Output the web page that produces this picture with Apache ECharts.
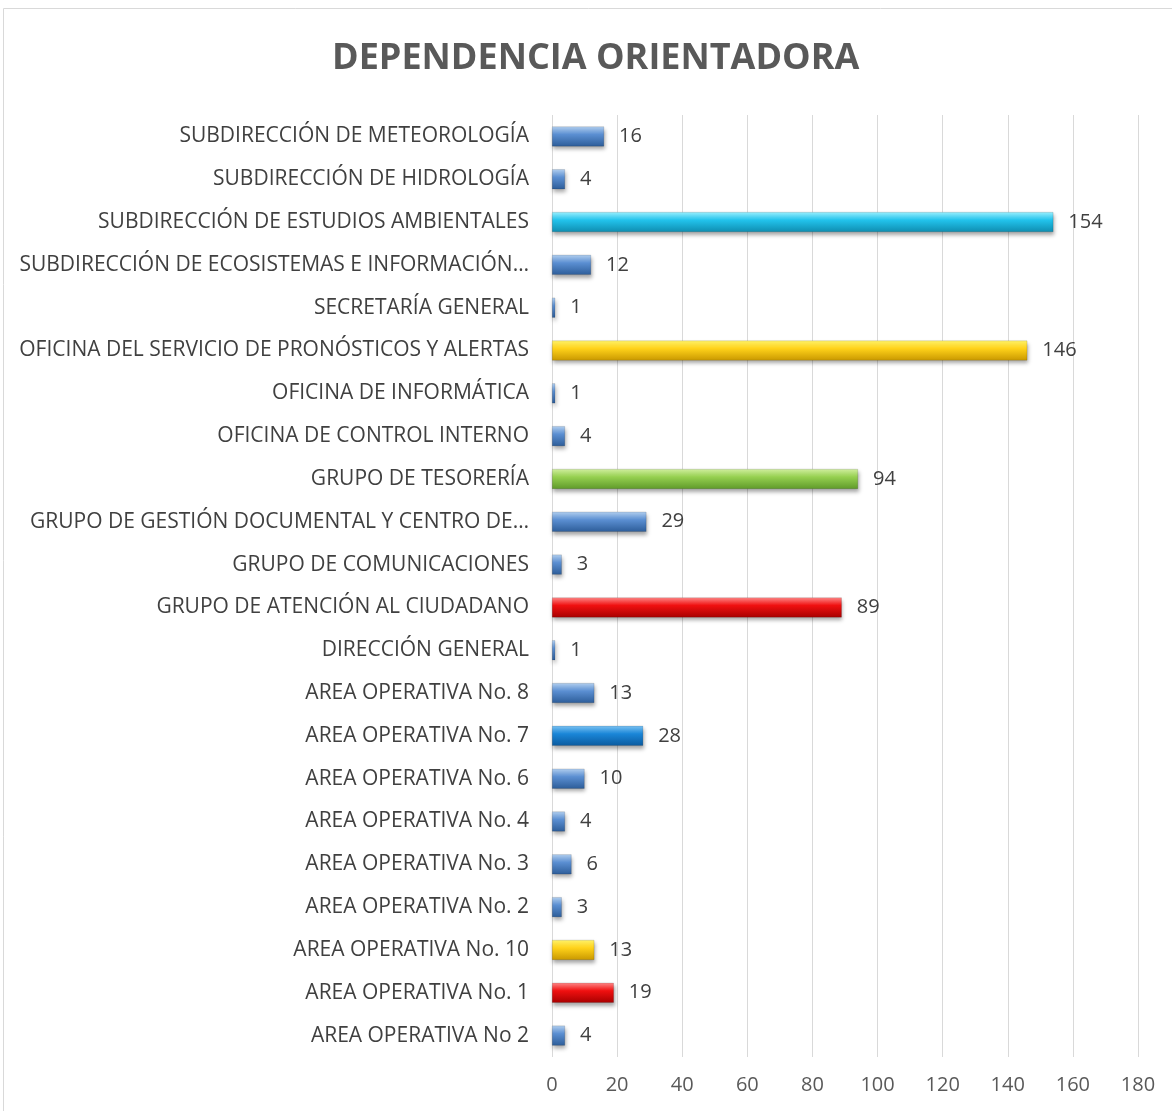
<!DOCTYPE html>
<html>
<head>
<meta charset="utf-8">
<title>Dependencia orientadora</title>
<script src="https://cdn.jsdelivr.net/npm/echarts@6/dist/echarts.min.js"></script>
<style>
  html, body { margin: 0; padding: 0; background: #fff; }
  #chart { width: 1172px; height: 1111px; }
</style>
</head>
<body>
<div id="chart"></div>
<script>
// categories bottom -> top (echarts draws first category at the bottom)
const categories = [
  'AREA OPERATIVA No 2',
  'AREA OPERATIVA No. 1',
  'AREA OPERATIVA No. 10',
  'AREA OPERATIVA No. 2',
  'AREA OPERATIVA No. 3',
  'AREA OPERATIVA No. 4',
  'AREA OPERATIVA No. 6',
  'AREA OPERATIVA No. 7',
  'AREA OPERATIVA No. 8',
  'DIRECCIÓN GENERAL',
  'GRUPO DE ATENCIÓN AL CIUDADANO',
  'GRUPO DE COMUNICACIONES',
  'GRUPO DE GESTIÓN DOCUMENTAL Y CENTRO DE…',
  'GRUPO DE TESORERÍA',
  'OFICINA DE CONTROL INTERNO',
  'OFICINA DE INFORMÁTICA',
  'OFICINA DEL SERVICIO DE PRONÓSTICOS Y ALERTAS',
  'SECRETARÍA GENERAL',
  'SUBDIRECCIÓN DE ECOSISTEMAS E INFORMACIÓN…',
  'SUBDIRECCIÓN DE ESTUDIOS AMBIENTALES',
  'SUBDIRECCIÓN DE HIDROLOGÍA',
  'SUBDIRECCIÓN DE METEOROLOGÍA'
]

const values = [4, 19, 13, 3, 6, 4, 10, 28, 13, 1, 89, 3, 29, 94, 4, 1, 146, 1, 12, 154, 4, 16]

const xTicks = [0, 20, 40, 60, 80, 100, 120, 140, 160, 180]

// bars that Excel coloured differently from the default blue
const highlight = {
  'AREA OPERATIVA No. 1': 'red',
  'AREA OPERATIVA No. 10': 'yellow',
  'AREA OPERATIVA No. 7': 'azure',
  'GRUPO DE ATENCIÓN AL CIUDADANO': 'red',
  'GRUPO DE TESORERÍA': 'green',
  'OFICINA DEL SERVICIO DE PRONÓSTICOS Y ALERTAS': 'yellow',
  'SUBDIRECCIÓN DE ESTUDIOS AMBIENTALES': 'cyan'
}

const tones = {
  blue:   ['#b3d0f0', '#5b8fd2', '#2d5d99'],
  azure:  ['#7cc4f4', '#1a86d8', '#0b5a9e'],
  cyan:   ['#9af0ff', '#22c3ec', '#0f8db0'],
  yellow: ['#fff36a', '#ffd21a', '#c99800'],
  green:  ['#d2f0a0', '#96d050', '#5f9a2a'],
  red:    ['#ff8a8a', '#f01010', '#a80000']
}

function bevel(tone) {
  const c = tones[tone]
  return new echarts.graphic.LinearGradient(0, 0, 0, 1, [
    { offset: 0, color: c[0] },
    { offset: 0.4, color: c[1] },
    { offset: 1, color: c[2] }
  ])
}

const chart = echarts.init(document.getElementById('chart'))

chart.setOption({
  animation: false,
  textStyle: { fontFamily: 'Open Sans, Noto Sans, sans-serif' },
  title: {
    text: 'DEPENDENCIA ORIENTADORA',
    left: 327,
    top: 36,
    textStyle: {
      fontSize: 36,
      fontWeight: 'bold',
      color: '#595959',
      fontFamily: 'Open Sans, sans-serif'
    }
  },
  graphic: [{
    type: 'rect',
    shape: { x: 3.5, y: 8.5, width: 1180, height: 1120 },
    style: { fill: null, stroke: '#d9d9d9', lineWidth: 1 },
    silent: true,
    z: -1
  }],
  grid: {
    left: 552,
    right: 34,
    top: 115,
    bottom: 54,
    containLabel: false
  },
  xAxis: {
    type: 'value',
    min: 0,
    max: 180,
    interval: 20,
    axisLine: { show: false },
    axisTick: { show: false },
    splitLine: { lineStyle: { color: '#d9d9d9', width: 1 } },
    axisLabel: {
      color: '#595959',
      fontSize: 20,
      margin: 18,
      formatter: v => (xTicks.includes(v) ? String(v) : '')
    }
  },
  yAxis: {
    type: 'category',
    data: categories,
    axisLine: { show: false },
    axisTick: { show: false },
    axisLabel: {
      color: '#404040',
      fontSize: 21,
      margin: 23
    }
  },
  series: [{
    type: 'bar',
    barWidth: 20,
    data: values.map((v, i) => ({
      value: v,
      itemStyle: { color: bevel(highlight[categories[i]] || 'blue') }
    })),
    itemStyle: {
      borderColor: 'rgba(0,0,0,0.25)',
      borderWidth: 0.5,
      shadowColor: 'rgba(0,0,0,0.35)',
      shadowBlur: 4,
      shadowOffsetX: 1,
      shadowOffsetY: 3
    },
    label: {
      show: true,
      position: 'right',
      distance: 15,
      color: '#404040',
      fontSize: 20
    }
  }]
})
</script>
</body>
</html>
